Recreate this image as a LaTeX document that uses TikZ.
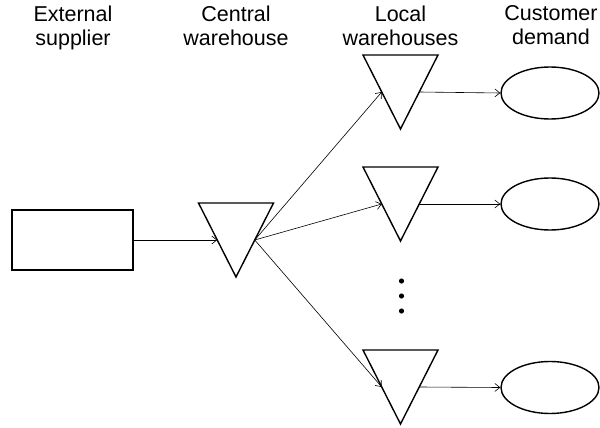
\documentclass[tikz,border=0pt]{standalone}
\usepackage{fontspec}
\setmainfont{Liberation Sans}
\usetikzlibrary{shapes.geometric,arrows.meta}
\tikzset{
  shapeline/.style={line width=1.4pt},
  conn/.style={line width=0.6pt,-{Straight Barb[length=5pt,width=8pt,line width=0.6pt]}},
  lbl/.style={anchor=north,inner sep=0pt,align=center,font=\fontsize{21.5}{24}\selectfont},
  supbox/.style={draw,shapeline,minimum width=121pt,minimum height=60pt,inner sep=0pt},
  demand/.style={draw,shapeline,ellipse,minimum width=98pt,minimum height=52pt,inner sep=0pt},
  whtri/.pic={
    \draw[shapeline,line join=miter] (-37.5,0) -- (37.5,0) -- (0,74) -- cycle;
    \coordinate (-in) at (-18.75,37);
    \coordinate (-out) at (18.75,37);
  }
}
\begin{document}
\begin{tikzpicture}[x=1pt,y=-1pt]
\useasboundingbox (0,0) rectangle (600,428);
% labels
\node[lbl] (t1) at (73,5.5) {External\\supplier};
\node[lbl] (t2) at (236,5.5) {Central\\warehouse};
\node[lbl] (t3) at (400.5,5.5) {Local\\warehouses};
\node[lbl] (t4) at (551,5.5) {Customer\\demand};
% shapes
\node[supbox] (sup) at (72.5,240) {};
\pic (cw) at (236,203) {whtri};
\pic (lw1) at (400.5,55) {whtri};
\pic (lw2) at (400.5,167) {whtri};
\pic (lw3) at (400.5,350) {whtri};
\node[demand] (cd1) at (550,93) {};
\node[demand] (cd2) at (550,204) {};
\node[demand] (cd3) at (550,387.5) {};
% dots
\foreach \y/\n in {281/a,296/b,311/c}
  \fill (401.5,\y) circle (2.6pt) coordinate (dot\n);
% connectors
\draw[conn] (sup.east) -- (cw-in);
\draw[conn] (cw-out) -- (lw1-in);
\draw[conn] (cw-out) -- (lw2-in);
\draw[conn] (cw-out) -- (lw3-in);
\draw[conn] (lw1-out) -- (cd1.west);
\draw[conn] (lw2-out) -- (cd2.west);
\draw[conn] (lw3-out) -- (cd3.west);
\end{tikzpicture}
\end{document}
